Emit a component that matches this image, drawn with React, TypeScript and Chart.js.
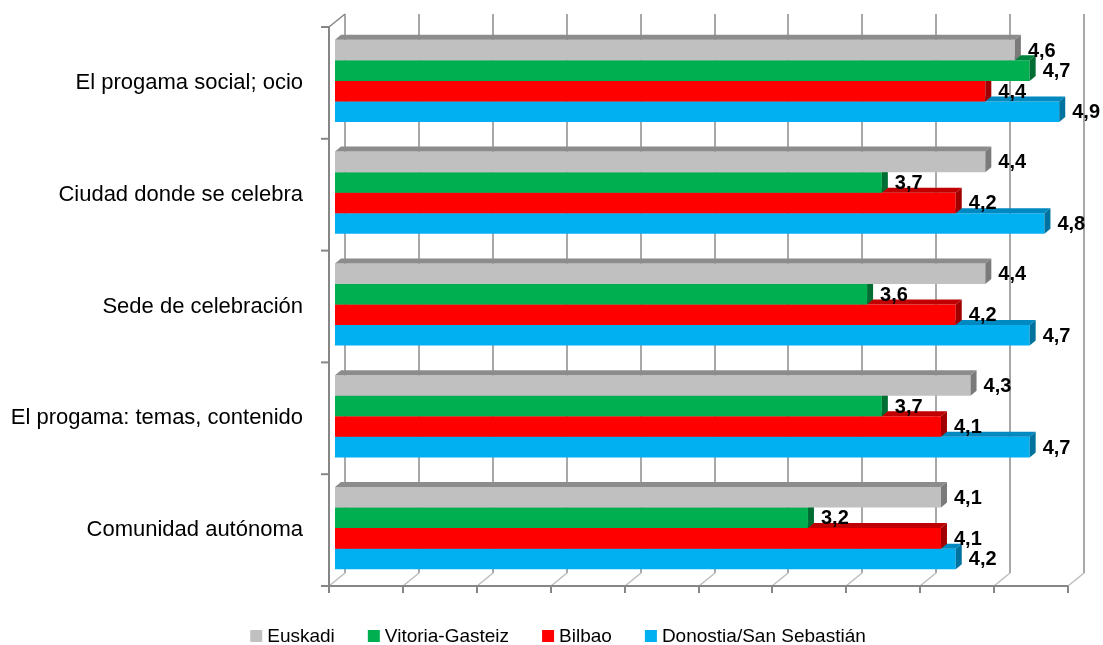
import React, { useEffect, useRef } from "react";
import { Chart, registerables } from "chart.js";

Chart.register(...registerables);

const categories = [
  "El progama social; ocio",
  "Ciudad donde se celebra",
  "Sede de celebración",
  "El progama: temas, contenido",
  "Comunidad autónoma",
];
const seriesNames = ["Euskadi", "Vitoria-Gasteiz", "Bilbao", "Donostia/San Sebastián"];
const euskadi = [4.6, 4.4, 4.4, 4.3, 4.1];
const vitoria = [4.7, 3.7, 3.6, 3.7, 3.2];
const bilbao = [4.4, 4.2, 4.2, 4.1, 4.1];
const donostia = [4.9, 4.8, 4.7, 4.7, 4.2];
const xTicks = [0, 0.5, 1, 1.5, 2, 2.5, 3, 3.5, 4, 4.5, 5];

const frontColors = ["#C0C0C0", "#00B050", "#FF0000", "#00B0F0"];
const topColors = ["#8C8C8C", "#00843C", "#C00000", "#0088C0"];
const sideColors = ["#7A7A7A", "#006E32", "#A00000", "#00729F"];

const DX = 16, DY = -13; // wall depth
const BDX = 6, BDY = -5; // bar depth
const SX = 6, SY = -2; // bar shift to mid-depth

function line(ctx: CanvasRenderingContext2D, x1: number, y1: number, x2: number, y2: number) {
  ctx.beginPath();
  ctx.moveTo(x1, y1);
  ctx.lineTo(x2, y2);
  ctx.stroke();
}
function poly(ctx: CanvasRenderingContext2D, pts: number[][]) {
  ctx.beginPath();
  ctx.moveTo(pts[0][0], pts[0][1]);
  for (let i = 1; i < pts.length; i++) ctx.lineTo(pts[i][0], pts[i][1]);
  ctx.closePath();
  ctx.fill();
}

const threeD = {
  id: "threeD",
  beforeDatasetsDraw(chart: any) {
    const { ctx, chartArea: a } = chart;
    const x = chart.scales.x;
    ctx.save();
    xTicks.forEach((v) => {
      const px = Math.round(x.getPixelForValue(v));
      ctx.strokeStyle = "#A8A8A8";
      ctx.lineWidth = 2;
      line(ctx, px + DX, a.top + DY, px + DX, a.bottom + DY);
      ctx.strokeStyle = "#BDBDBD";
      ctx.lineWidth = 1.5;
      line(ctx, px, a.bottom, px + DX, a.bottom + DY);
      ctx.strokeStyle = "#868686";
      ctx.lineWidth = 2;
      line(ctx, px, a.bottom, px, a.bottom + 7);
    });
    ctx.strokeStyle = "#868686";
    ctx.lineWidth = 2;
    line(ctx, a.left, a.top, a.left, a.bottom);
    line(ctx, a.left, a.bottom, a.right, a.bottom);
    ctx.lineWidth = 1.5;
    line(ctx, a.left, a.top, a.left + DX, a.top + DY);
    ctx.lineWidth = 2;
    const n = categories.length;
    for (let i = 0; i <= n; i++) {
      const y = a.top + (i * (a.bottom - a.top)) / n;
      line(ctx, a.left - 8, y, a.left, y);
    }
    ctx.restore();
    ctx.save();
    ctx.translate(SX, SY);
  },
  afterDatasetDraw(chart: any, args: any) {
    const { ctx } = chart;
    const i = args.index;
    args.meta.data.forEach((bar: any) => {
      const { x, y, base, height } = bar.getProps(["x", "y", "base", "height"], true);
      const top = y - height / 2;
      const bottom = y + height / 2;
      ctx.fillStyle = topColors[i];
      poly(ctx, [[base, top], [base + BDX, top + BDY], [x + BDX, top + BDY], [x, top]]);
      ctx.fillStyle = sideColors[i];
      poly(ctx, [[x, top], [x + BDX, top + BDY], [x + BDX, bottom + BDY], [x, bottom]]);
    });
  },
  afterDatasetsDraw(chart: any) {
    const { ctx } = chart;
    ctx.restore();
    ctx.save();
    ctx.font = "bold 20px 'Liberation Sans', Arial, sans-serif";
    ctx.fillStyle = "#000";
    ctx.textAlign = "left";
    ctx.textBaseline = "middle";
    chart.data.datasets.forEach((ds: any, di: number) => {
      const meta = chart.getDatasetMeta(di);
      meta.data.forEach((bar: any, j: number) => {
        const { x, y } = bar.getProps(["x", "y"], true);
        const txt = Number(ds.data[j]).toFixed(1).replace(".", ",");
        ctx.fillText(txt, x + SX + 13, y + SY + 1);
      });
    });
    ctx.restore();
  },
  afterDraw(chart: any) {
    const { ctx } = chart;
    ctx.save();
    ctx.font = "19px 'Liberation Sans', Arial, sans-serif";
    ctx.textBaseline = "middle";
    ctx.textAlign = "left";
    const box = 12, gapText = 5, gapItem = 33;
    const widths = seriesNames.map((s) => box + gapText + ctx.measureText(s).width);
    const total = widths.reduce((p, c) => p + c, 0) + gapItem * (seriesNames.length - 1);
    let cx = 558 - total / 2;
    const cy = 636;
    seriesNames.forEach((s, i) => {
      ctx.fillStyle = frontColors[i];
      ctx.fillRect(cx, cy - box / 2, box, box);
      ctx.fillStyle = "#000";
      ctx.fillText(s, cx + box + gapText, cy + 1);
      cx += widths[i] + gapItem;
    });
    ctx.restore();
  },
};

export default function App() {
  const ref = useRef<HTMLCanvasElement | null>(null);
  useEffect(() => {
    if (!ref.current) return;
    const series = [euskadi, vitoria, bilbao, donostia];
    const chart = new Chart(ref.current, {
      type: "bar",
      data: {
        labels: categories,
        datasets: series.map((d, i) => ({
          label: seriesNames[i],
          data: d,
          backgroundColor: frontColors[i],
          borderWidth: 0,
          categoryPercentage: 0.735,
          barPercentage: 1,
          clip: false as any,
        })),
      },
      options: {
        indexAxis: "y",
        animation: false,
        responsive: true,
        maintainAspectRatio: false,
        layout: { padding: { top: 27, bottom: 59, left: 0, right: 35 } },
        plugins: { legend: { display: false }, tooltip: { enabled: false } },
        scales: {
          x: { display: false, min: 0, max: 5 },
          y: {
            grid: { display: false, drawTicks: false },
            border: { display: false },
            ticks: {
              padding: 26,
              color: "#000",
              font: { family: "'Liberation Sans', Arial, sans-serif", size: 22 },
            },
            afterFit: (s: any) => {
              s.width = 329;
              s.paddingTop = 0;
              s.paddingBottom = 0;
            },
          },
        },
      },
      plugins: [threeD],
    });
    return () => chart.destroy();
  }, []);
  return (
    <div style={{ position: "absolute", left: 0, top: 0, width: 1103, height: 645 }}>
      <canvas ref={ref} />
    </div>
  );
}
